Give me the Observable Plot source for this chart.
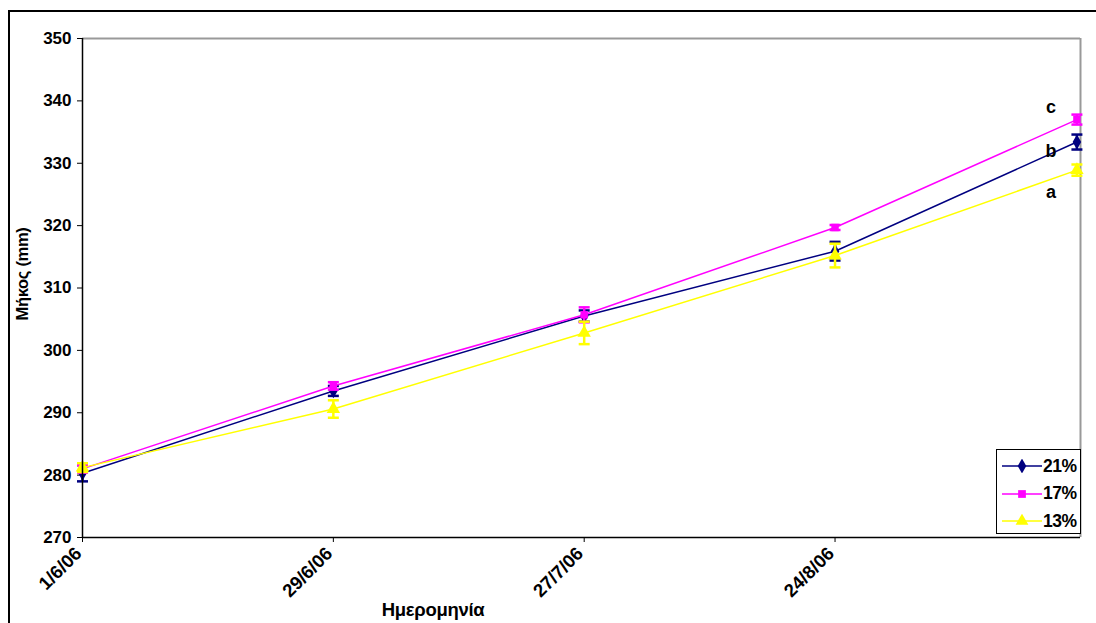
<!DOCTYPE html>
<html><head><meta charset="utf-8">
<script src="https://cdn.jsdelivr.net/npm/d3@7"></script>
<script src="https://cdn.jsdelivr.net/npm/@observablehq/plot@0.6"></script>
<style>
html,body{margin:0;padding:0;background:#fff}
body{width:1096px;height:623px;overflow:hidden;position:relative;font-family:"Liberation Sans",Arial,sans-serif}
#frame{position:absolute;left:8px;top:10px;width:1200px;height:700px;border:2px solid #000;box-sizing:border-box;pointer-events:none}
#chart{position:absolute;left:0;top:0}
#xlabel{position:absolute;left:433px;top:610px;transform:translate(-50%,-50%);font-weight:bold;font-size:18.5px;white-space:nowrap;letter-spacing:-0.3px}
#ylabel{position:absolute;left:22px;top:274px;transform:translate(-50%,-50%) rotate(-90deg);font-weight:bold;font-size:16.5px;white-space:nowrap;letter-spacing:-0.3px}
#legend{position:absolute;left:996px;top:449px;width:85px;height:85px;border:1px solid #000;box-sizing:border-box;background:#fff}
.row{position:absolute;left:5px;height:16px;display:flex;align-items:center}
.row span{font-weight:bold;font-size:17.5px;margin-left:1px;letter-spacing:-0.5px}
</style></head>
<body>
<div id="chart"></div>
<div id="frame"></div>
<div id="ylabel">Μήκος (mm)</div>
<div id="xlabel">Ημερομηνία</div>
<div id="legend"></div>
<script>
const dates = ["1/6/06","29/6/06","27/7/06","24/8/06","20/9/06"];
const tickDates = ["1/6/06","29/6/06","27/7/06","24/8/06"];
const yTicks = [270,280,290,300,310,320,330,340,350];
const seriesNames = ["21%","17%","13%"];
const seriesColors = ["#000080","#FF00FF","#FFFF00"];
const seriesSymbols = ["diamond","square","triangle"];
const mean21 = [280.3,293.5,305.5,315.9,333.4];
const err21  = [1.3,0.8,0.9,1.5,1.2];
const mean17 = [281.0,294.3,305.7,319.7,337.0];
const err17  = [0.6,0.6,1.2,0.4,0.8];
const mean13 = [281.2,290.6,302.8,315.2,328.9];
const err13  = [0.7,1.4,1.8,1.9,0.9];
const letters = ["c","b","a"];
const letterY = [339.0,332.0,325.4];

const parse = d3.utcParse("%d/%m/%y");
const means = [mean21, mean17, mean13];
const errs = [err21, err17, err13];
const data = [];
seriesNames.forEach((s, i) => {
  dates.forEach((d, j) => {
    data.push({series: s, date: parse(d), v: means[i][j], lo: means[i][j] - errs[i][j], hi: means[i][j] + errs[i][j]});
  });
});
const x0 = parse(dates[0]);
const xLast = parse(dates[dates.length - 1]);
const x1 = new Date(+xLast + 0.4 * 864e5);
const labels = letters.map((l, i) => ({t: l, date: xLast, y: letterY[i]}));
const xTickData = tickDates.map(t => ({label: t, date: parse(t)}));

const cap = {draw(ctx, size){ const r = Math.sqrt(size / Math.PI); ctx.moveTo(-r, 0); ctx.lineTo(r, 0); }};

const marks = [
  Plot.ruleY([350], {stroke: "#999", strokeWidth: 2}),
  Plot.ruleX([x1], {stroke: "#999", strokeWidth: 2}),
  Plot.axisY({ticks: yTicks, tickSize: 5, tickFormat: () => "", label: null}),
  Plot.axisX({ticks: xTickData.map(d => d.date), tickSize: 5, tickFormat: () => "", label: null}),
  Plot.text(yTicks, {x: x0, y: d => d, text: d => String(d), textAnchor: "end", dx: -11, fontSize: 17, fontWeight: "bold", fill: "#000"}),
  Plot.text(xTickData, {x: "date", y: 270, text: "label", textAnchor: "end", rotate: -45, dx: -4, dy: 13, fontSize: 18.5, fontWeight: "bold", fill: "#000"})
];
seriesNames.forEach((s, i) => {
  const sub = data.filter(d => d.series === s);
  marks.push(
    Plot.line(sub, {x: "date", y: "v", stroke: seriesColors[i], strokeWidth: 1.5}),
    Plot.ruleX(sub, {x: "date", y1: "lo", y2: "hi", stroke: seriesColors[i], strokeWidth: 2.5}),
    Plot.dot(sub, {x: "date", y: "lo", symbol: cap, r: 5.5, stroke: seriesColors[i], strokeWidth: 2.5}),
    Plot.dot(sub, {x: "date", y: "hi", symbol: cap, r: 5.5, stroke: seriesColors[i], strokeWidth: 2.5}),
    Plot.dot(sub, {x: "date", y: "v", symbol: seriesSymbols[i], r: i === 0 ? 4.5 : (i === 1 ? 4.2 : 5), fill: seriesColors[i], stroke: "none"})
  );
});
marks.push(
  Plot.ruleY([270], {stroke: "#000", strokeWidth: 1.5}),
  Plot.ruleX([x0], {stroke: "#000", strokeWidth: 1.5}),
  Plot.text(labels, {x: "date", y: "y", text: "t", dx: -26, fontSize: 18, fontWeight: "bold", fill: "#000"})
);

const chart = Plot.plot({
  width: 1096, height: 623,
  marginLeft: 82, marginRight: 16, marginTop: 38, marginBottom: 86,
  x: {type: "utc", domain: [x0, x1]},
  y: {domain: [270, 350]},
  style: {fontFamily: "'Liberation Sans', Arial, sans-serif", fontSize: "16px", fontWeight: "bold", color: "#000", background: "transparent", overflow: "visible"},
  marks
});
document.getElementById("chart").appendChild(chart);

const legend = document.getElementById("legend");
const symPaths = {
  diamond: d3.symbol(d3.symbolDiamond, 64)(),
  square: d3.symbol(d3.symbolSquare, 60)(),
  triangle: d3.symbol(d3.symbolTriangle, 70)()
};
seriesNames.forEach((s, i) => {
  const row = document.createElement("div");
  row.className = "row";
  row.style.top = (8 + i * 27.5) + "px";
  row.innerHTML = `<svg width="40" height="14"><line x1="0" x2="40" y1="7" y2="7" stroke="${seriesColors[i]}" stroke-width="1.5"/><path transform="translate(20,7)" d="${symPaths[seriesSymbols[i]]}" fill="${seriesColors[i]}"/></svg><span>${s}</span>`;
  legend.appendChild(row);
});
</script>
</body></html>
